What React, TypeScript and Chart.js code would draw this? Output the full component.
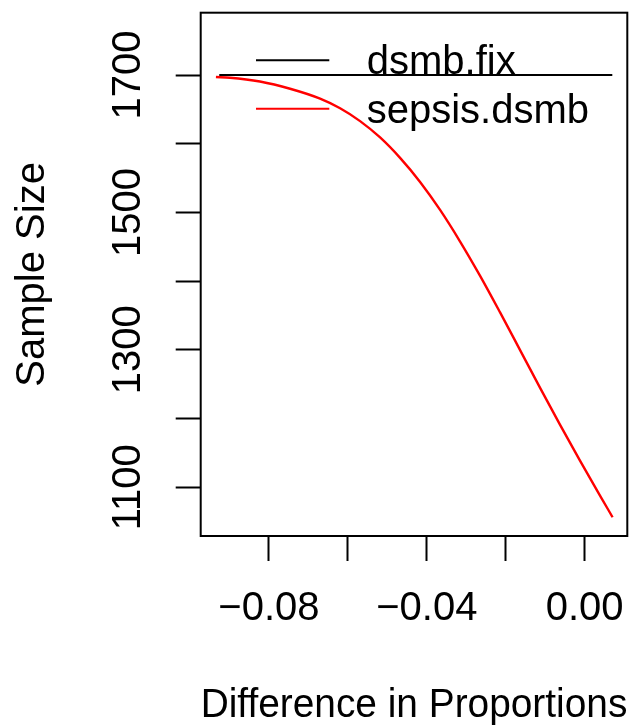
import { useEffect, useRef } from "react";
import { Chart, registerables } from "chart.js";

Chart.register(...registerables);

// Difference in proportions (x) against required sample size (y)
const sepsisDiff = [
  -0.09344, -0.0899, -0.08229, -0.07465, -0.06705, -0.06198, -0.05691,
  -0.05184, -0.04678, -0.04171, -0.03664, -0.03157, -0.0265, -0.02144,
  -0.01637, -0.0113, -0.00623, -0.00119, 0.00388, 0.00707,
];
const sepsisSize = [
  1697.1, 1696.1, 1690.5, 1680.0, 1665.6, 1651.6, 1632.9, 1609.1, 1579.4,
  1544.4, 1503.7, 1457.7, 1407.7, 1354.5, 1299.7, 1244.7, 1190.8, 1138.9,
  1088.0, 1056.4,
];
const fixDiff = [-0.0926, 0.007];
const fixSize = [1700, 1700];

const seriesNames = ["dsmb.fix", "sepsis.dsmb"];
const seriesColors = ["#000000", "#ff0000"];

const xLabelTicks = [-0.08, -0.04, 0.0];
const yLabelTicks = [1100, 1300, 1500, 1700];

const xTitle = "Difference in Proportions";
const yTitle = "Sample Size";

const FONT = "'Liberation Sans', Arial, Helvetica, sans-serif";
const FONT_SIZE = 40;
const W = 641;
const H = 727;

const fmtX = (v: number) => {
  const s = Math.abs(v).toFixed(2);
  return v < -1e-9 ? "\u2212" + s : s;
};

// Plot frame plus an R-style legend without a box
const framePlugin = {
  id: "frameAndLegend",
  afterDraw(chart: any) {
    const { ctx, chartArea } = chart;
    const { left, top, right, bottom } = chartArea;
    ctx.save();
    ctx.strokeStyle = "#000";
    ctx.lineWidth = 2;
    ctx.strokeRect(left, top, right - left, bottom - top);

    const lineX0 = left + 55.3;
    const lineX1 = left + 128.6;
    const textX = left + 166;
    const rowY0 = top + 47.6;
    const rowGap = 48.4;
    ctx.font = `${FONT_SIZE}px ${FONT}`;
    ctx.textAlign = "left";
    ctx.textBaseline = "alphabetic";
    chart.data.datasets.forEach((ds: any, i: number) => {
      const y = rowY0 + i * rowGap;
      ctx.strokeStyle = ds.borderColor;
      ctx.lineWidth = 2;
      ctx.beginPath();
      ctx.moveTo(lineX0, y);
      ctx.lineTo(lineX1, y);
      ctx.stroke();
      ctx.fillStyle = "#000";
      ctx.fillText(ds.label, textX, y + 14);
    });
    ctx.restore();
  },
};

export default function App() {
  const ref = useRef<HTMLCanvasElement | null>(null);

  useEffect(() => {
    if (!ref.current) return;
    const font = { family: FONT, size: FONT_SIZE };
    const chart = new Chart(ref.current, {
      type: "line",
      data: {
        datasets: [
          {
            label: seriesNames[0],
            data: fixDiff.map((x, i) => ({ x, y: fixSize[i] })),
            borderColor: seriesColors[0],
            borderWidth: 2,
            pointRadius: 0,
            fill: false,
          },
          {
            label: seriesNames[1],
            data: sepsisDiff.map((x, i) => ({ x, y: sepsisSize[i] })),
            borderColor: seriesColors[1],
            borderWidth: 2.4,
            pointRadius: 0,
            fill: false,
            cubicInterpolationMode: "monotone",
          },
        ],
      },
      options: {
        responsive: false,
        animation: false,
        devicePixelRatio: 1,
        layout: { padding: { top: 12.7, right: 13.7, bottom: 0, left: 0 } },
        plugins: {
          legend: { display: false },
          tooltip: { enabled: false },
        },
        scales: {
          x: {
            type: "linear",
            position: "bottom",
            min: -0.0973,
            max: 0.0108,
            grid: {
              drawOnChartArea: false,
              drawTicks: true,
              tickLength: 25,
              tickWidth: 2,
              tickColor: "#000",
            },
            border: { display: false },
            ticks: {
              stepSize: 0.02,
              includeBounds: false,
              autoSkip: false,
              minRotation: 0,
              maxRotation: 0,
              padding: 24.4,
              color: "#000",
              font,
              callback: (v: any) =>
                xLabelTicks.some((t) => Math.abs(t - Number(v)) < 1e-6)
                  ? fmtX(Number(v))
                  : "",
            },
            title: {
              display: true,
              text: xTitle,
              color: "#000",
              padding: { top: 0, bottom: 0 },
              font: { family: FONT, size: FONT_SIZE, lineHeight: 1.04 },
            },
            afterFit: (s: any) => {
              s.height = 191;
              s.paddingLeft = 0;
              s.paddingRight = 0;
            },
          },
          y: {
            type: "linear",
            position: "left",
            min: 1029.1,
            max: 1790.7,
            grid: {
              drawOnChartArea: false,
              drawTicks: true,
              tickLength: 25,
              tickWidth: 2,
              tickColor: "#000",
            },
            border: { display: false },
            ticks: {
              stepSize: 100,
              includeBounds: false,
              autoSkip: false,
              minRotation: 90,
              maxRotation: 90,
              crossAlign: "center",
              padding: 1.8,
              color: "#000",
              font,
              callback: (v: any) =>
                yLabelTicks.includes(Math.round(Number(v)))
                  ? String(Math.round(Number(v)))
                  : "",
            },
            title: {
              display: true,
              text: yTitle,
              color: "#000",
              padding: { top: 8.9, bottom: 0 },
              font,
            },
            afterFit: (s: any) => {
              s.width = 200.7;
              s.paddingTop = 0;
              s.paddingBottom = 0;
            },
          },
        },
      } as any,
      plugins: [framePlugin],
    });
    return () => chart.destroy();
  }, []);

  return (
    <div style={{ position: "absolute", left: 0, top: 0, width: W, height: H, background: "#fff" }}>
      <canvas ref={ref} width={W} height={H} style={{ display: "block" }} />
    </div>
  );
}
